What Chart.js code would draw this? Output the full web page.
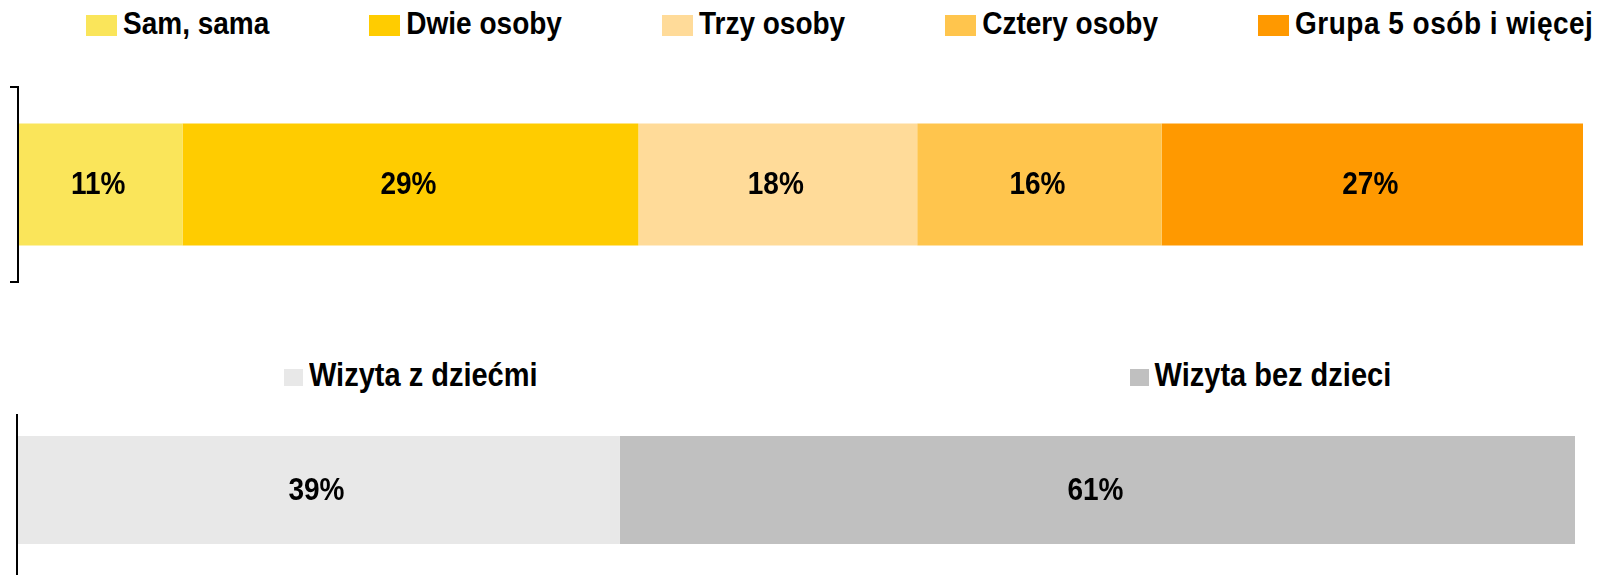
<!DOCTYPE html>
<html>
<head>
<meta charset="utf-8">
<script src="https://cdn.jsdelivr.net/npm/chart.js@4.4.0/dist/chart.umd.min.js"></script>
<style>
  html, body { margin: 0; padding: 0; background: #fff; overflow: hidden; }
  body { width: 1615px; height: 575px; position: relative; font-family: "Liberation Sans", Arial, sans-serif; }
  .legend { position: absolute; display: flex; align-items: center; font-weight: bold; font-size: 28px; color: #000; white-space: nowrap; }
  .legend .item { display: flex; align-items: center; }
  .legend .txt { display: inline-block; transform: scaleY(1.12); }
  #legendTop { left: 86px; top: 0; height: 48px; gap: 100px; }
  #legendTop .box { width: 31px; height: 21px; margin-right: 6px; margin-top: 3px; }
  #legendTop .item:last-child .txt { letter-spacing: 0.5px; }
  #legendBottom { left: 284px; top: 352px; height: 46px; gap: 592px; font-size: 29px; }
  #legendBottom .box { width: 19px; height: 17px; margin-right: 6px; margin-top: 5px; }
  .wrap { position: absolute; left: 0; width: 1615px; }
  #wrapTop { top: 60px; height: 250px; }
  #wrapBottom { top: 400px; height: 175px; }
</style>
</head>
<body>
<div id="legendTop" class="legend"></div>
<div id="wrapTop" class="wrap"><canvas id="groupChart" width="1615" height="250"></canvas></div>
<div id="legendBottom" class="legend"></div>
<div id="wrapBottom" class="wrap"><canvas id="kidsChart" width="1615" height="175"></canvas></div>

<script>
// top bar - group size
const groupLabels = ["Sam, sama", "Dwie osoby", "Trzy osoby", "Cztery osoby", "Grupa 5 osób i więcej"];
const groupValues = [10.5, 29.1, 17.8, 15.6, 26.9];
const groupColors = ["#FAE55A", "#FFCC00", "#FFDB99", "#FFC54D", "#FF9900"];

// bottom bar - visit with kids
const kidsLabels = ["Wizyta z dziećmi", "Wizyta bez dzieci"];
const kidsValues = [38.7, 61.3];
const kidsColors = ["#E8E8E8", "#C0C0C0"];

function buildLegend(id, labels, colors) {
  const el = document.getElementById(id);
  labels.forEach((label, i) => {
    const item = document.createElement("div");
    item.className = "item";
    const box = document.createElement("span");
    box.className = "box";
    box.style.background = colors[i];
    const txt = document.createElement("span");
    txt.className = "txt";
    txt.textContent = label;
    item.appendChild(box);
    item.appendChild(txt);
    el.appendChild(item);
  });
}

// percent labels in the middle of each segment
const barLabels = {
  id: "barLabels",
  afterDatasetsDraw(chart) {
    const ctx = chart.ctx;
    ctx.save();
    ctx.font = 'bold 28px "Liberation Sans", Arial, sans-serif';
    ctx.fillStyle = "#000";
    ctx.textAlign = "center";
    ctx.textBaseline = "middle";
    chart.data.datasets.forEach((ds, i) => {
      chart.getDatasetMeta(i).data.forEach((bar, j) => {
        const p = bar.getCenterPoint();
        ctx.save();
        ctx.translate(p.x, p.y);
        ctx.scale(1, 1.12);
        ctx.fillText(Math.round(ds.data[j]) + "%", -2, 1);
        ctx.restore();
      });
    });
    ctx.restore();
  },
};

// the lower axis line runs off the bottom of the picture
const axisToEdge = {
  id: "axisToEdge",
  afterDraw(chart) {
    const y = chart.scales.y;
    const ctx = chart.ctx;
    const x = Math.round(y.right);
    ctx.save();
    ctx.strokeStyle = "#000";
    ctx.lineWidth = 2;
    ctx.beginPath();
    ctx.moveTo(x, y.bottom - 1);
    ctx.lineTo(x, chart.height);
    ctx.stroke();
    ctx.restore();
  },
};

function makeBar(canvasId, labels, values, colors, opts) {
  const total = values.reduce((a, b) => a + b, 0);
  return new Chart(document.getElementById(canvasId), {
    type: "bar",
    data: {
      labels: [""],
      datasets: labels.map((label, i) => ({
        label: label,
        data: [values[i]],
        backgroundColor: colors[i],
        borderWidth: 0,
        categoryPercentage: 1,
        barPercentage: opts.barPct,
      })),
    },
    options: {
      indexAxis: "y",
      responsive: false,
      animation: false,
      layout: { padding: opts.padding },
      plugins: { legend: { display: false }, tooltip: { enabled: false } },
      scales: {
        x: { stacked: true, display: false, min: 0, max: total },
        y: {
          stacked: true,
          ticks: { display: false },
          grid: { drawOnChartArea: false, drawTicks: opts.ticks, tickLength: 8, color: "#000", lineWidth: 2 },
          border: { color: "#000", width: 2, z: 1 },
        },
      },
    },
    plugins: opts.plugins,
  });
}

buildLegend("legendTop", groupLabels, groupColors);
buildLegend("legendBottom", kidsLabels, kidsColors);

makeBar("groupChart", groupLabels, groupValues, groupColors, {
  barPct: 0.626,
  ticks: true,
  padding: { top: 27, bottom: 28, left: 10, right: 32 },
  plugins: [barLabels],
});

makeBar("kidsChart", kidsLabels, kidsValues, kidsColors, {
  barPct: 0.72,
  ticks: false,
  padding: { top: 15, bottom: 10, left: 17, right: 40 },
  plugins: [barLabels, axisToEdge],
});
</script>
</body>
</html>
